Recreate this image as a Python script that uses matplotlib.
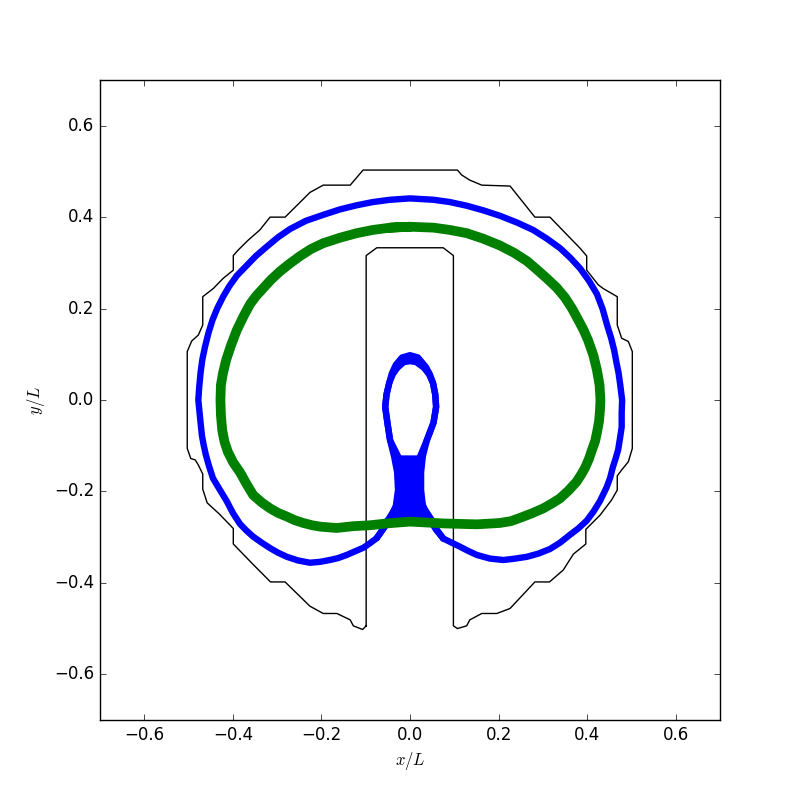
import numpy as np
import matplotlib
matplotlib.use('Agg')
import matplotlib.pyplot as plt

plt.style.use('classic')

# container wall (outer contour with the inner channel)
wall_x = [-0.099, -0.099, -0.075, 0.075, 0.098, 0.098, 0.107, 0.128, 0.135, 0.162,
          0.196, 0.226, 0.282, 0.315, 0.346, 0.369, 0.397, 0.397, 0.429, 0.455,
          0.468, 0.468, 0.478, 0.493, 0.502, 0.502, 0.493, 0.478, 0.468, 0.468,
          0.436, 0.425, 0.399, 0.399, 0.384, 0.316, 0.282, 0.226, 0.162, 0.135,
          0.117, 0.107, -0.106, -0.135, -0.196, -0.226, -0.282, -0.316, -0.339, -0.365,
          -0.388, -0.399, -0.399, -0.422, -0.444, -0.468, -0.468, -0.478, -0.493, -0.503,
          -0.503, -0.495, -0.485, -0.478, -0.468, -0.468, -0.458, -0.431, -0.399, -0.399,
          -0.357, -0.315, -0.282, -0.226, -0.196, -0.165, -0.135, -0.128, -0.107, -0.099]
wall_y = [-0.494, 0.316, 0.333, 0.333, 0.316, -0.494, -0.500, -0.494, -0.481, -0.467,
          -0.467, -0.456, -0.398, -0.398, -0.372, -0.337, -0.315, -0.283, -0.252, -0.219,
          -0.197, -0.166, -0.153, -0.135, -0.106, 0.106, 0.128, 0.135, 0.164, 0.226,
          0.244, 0.252, 0.284, 0.315, 0.332, 0.400, 0.400, 0.468, 0.470, 0.481,
          0.492, 0.503, 0.503, 0.470, 0.470, 0.454, 0.400, 0.400, 0.372, 0.350,
          0.328, 0.316, 0.284, 0.266, 0.244, 0.226, 0.164, 0.142, 0.129, 0.106,
          -0.106, -0.128, -0.131, -0.142, -0.162, -0.195, -0.225, -0.249, -0.281, -0.315,
          -0.357, -0.398, -0.398, -0.451, -0.467, -0.467, -0.481, -0.494, -0.502, -0.494]

# blue trajectory: outer ring (left lobe -> top -> right lobe)
ring_x = [-0.075, -0.090, -0.105, -0.124, -0.143, -0.163, -0.181, -0.203, -0.226, -0.253,
          -0.278, -0.298, -0.316, -0.335, -0.354, -0.369, -0.384, -0.400, -0.414, -0.429,
          -0.445, -0.454, -0.461, -0.466, -0.470, -0.474, -0.478,
          -0.476, -0.473, -0.469, -0.463, -0.455, -0.446, -0.435, -0.422, -0.408, -0.391,
          -0.369, -0.348, -0.324, -0.298, -0.271, -0.235, -0.196, -0.158, -0.120, -0.084,
          -0.045, 0.000, 0.053, 0.090, 0.128, 0.165, 0.203, 0.242, 0.278, 0.309,
          0.339, 0.362, 0.384, 0.404, 0.422, 0.435, 0.445, 0.454, 0.461, 0.466,
          0.471, 0.475, 0.479,
          0.478, 0.478, 0.474, 0.470, 0.464, 0.458, 0.452, 0.444, 0.429, 0.415,
          0.399, 0.380, 0.361, 0.339, 0.316, 0.290, 0.264, 0.237, 0.211, 0.181,
          0.151, 0.131, 0.113, 0.094, 0.075]
ring_y = [-0.302, -0.313, -0.323, -0.331, -0.339, -0.346, -0.350, -0.354, -0.356, -0.351,
          -0.343, -0.334, -0.324, -0.312, -0.299, -0.286, -0.271, -0.247, -0.221, -0.197,
          -0.171, -0.144, -0.120, -0.098, -0.077, -0.039, 0.000,
          0.028, 0.059, 0.088, 0.116, 0.147, 0.175, 0.201, 0.226, 0.249, 0.272,
          0.294, 0.315, 0.335, 0.356, 0.374, 0.392, 0.405, 0.417, 0.426, 0.433,
          0.438, 0.441, 0.438, 0.433, 0.425, 0.415, 0.403, 0.388, 0.372, 0.353,
          0.332, 0.311, 0.288, 0.261, 0.232, 0.199, 0.164, 0.136, 0.109, 0.083,
          0.059, 0.031, 0.000,
          -0.028, -0.059, -0.085, -0.109, -0.129, -0.147, -0.170, -0.191, -0.221, -0.243,
          -0.264, -0.281, -0.295, -0.312, -0.326, -0.336, -0.343, -0.347, -0.350, -0.347,
          -0.339, -0.330, -0.321, -0.312, -0.303]

# blue trajectory: passes through the neck and the small loop
pass1_x = [0.075, 0.045, 0.023, 0.005, -0.011, -0.027, -0.045, -0.051, -0.056, -0.053,
           -0.047, -0.039, -0.029, -0.014, 0.000, 0.014, 0.032, 0.043, 0.052, 0.057,
           0.059, 0.053, 0.038, 0.023, 0.007, -0.009, -0.025, -0.043, -0.059, -0.075]
pass1_y = [-0.303, -0.263, -0.232, -0.197, -0.158, -0.123, -0.088, -0.050, -0.015, 0.012,
           0.037, 0.056, 0.070, 0.083, 0.085, 0.083, 0.070, 0.056, 0.037, 0.012,
           -0.015, -0.050, -0.088, -0.123, -0.158, -0.197, -0.232, -0.258, -0.280, -0.302]
pass2_x = [0.075, 0.059, 0.043, 0.029, 0.025, 0.025, 0.029, 0.038, 0.053, 0.059,
           0.057, 0.052, 0.045, 0.036, 0.018, 0.000, -0.018, -0.032, -0.041, -0.047,
           -0.053, -0.056, -0.051, -0.045, -0.036, -0.029, -0.027, -0.032, -0.045, -0.061,
           -0.075]
pass2_y = [-0.303, -0.284, -0.258, -0.232, -0.197, -0.158, -0.123, -0.088, -0.050, -0.015,
           0.012, 0.037, 0.056, 0.072, 0.093, 0.098, 0.093, 0.077, 0.058, 0.037,
           0.012, -0.015, -0.050, -0.088, -0.123, -0.158, -0.197, -0.232, -0.258, -0.282,
           -0.302]

# blue neck below the small loop (left and right edges)
neck_y = [-0.120, -0.142, -0.160, -0.175, -0.197, -0.219, -0.234, -0.256, -0.274]
neck_left = [-0.041, -0.036, -0.034, -0.033, -0.030, -0.036, -0.041, -0.056, -0.072]
neck_right = [0.034, 0.030, 0.030, 0.028, 0.029, 0.032, 0.038, 0.053, 0.068]

# green trajectory (closed)
green_x = [0.000, -0.045, -0.084, -0.120, -0.158, -0.196, -0.224, -0.248, -0.272, -0.294,
           -0.314, -0.331, -0.347, -0.361, -0.376, -0.391, -0.404, -0.415, -0.422, -0.427,
           -0.428, -0.427, -0.424, -0.419, -0.411, -0.399, -0.384, -0.369, -0.354, -0.335,
           -0.316, -0.298, -0.278, -0.260, -0.241, -0.221, -0.203, -0.166, -0.128, -0.090,
           -0.053, 0.000, 0.075, 0.151, 0.203, 0.228, 0.248, 0.275, 0.301, 0.321,
           0.339, 0.358, 0.376, 0.386, 0.395, 0.404, 0.411, 0.418, 0.422, 0.427,
           0.429, 0.430, 0.428, 0.422, 0.414, 0.402, 0.392, 0.380, 0.366, 0.350,
           0.331, 0.309, 0.287, 0.264, 0.235, 0.203, 0.165, 0.128, 0.090, 0.053,
           0.000, -0.045]
green_y = [0.379, 0.377, 0.372, 0.365, 0.355, 0.343, 0.330, 0.315, 0.298, 0.281,
           0.263, 0.245, 0.228, 0.210, 0.183, 0.153, 0.120, 0.088, 0.060, 0.033,
           0.000, -0.033, -0.066, -0.091, -0.114, -0.137, -0.158, -0.184, -0.208, -0.224,
           -0.237, -0.247, -0.255, -0.263, -0.269, -0.274, -0.277, -0.280, -0.276, -0.274,
           -0.270, -0.266, -0.270, -0.272, -0.269, -0.265, -0.258, -0.248, -0.237, -0.226,
           -0.215, -0.198, -0.179, -0.164, -0.149, -0.129, -0.109, -0.090, -0.072, -0.046,
           -0.022, 0.000, 0.033, 0.066, 0.098, 0.131, 0.153, 0.175, 0.200, 0.224,
           0.246, 0.266, 0.285, 0.304, 0.322, 0.338, 0.353, 0.365, 0.372, 0.377,
           0.379, 0.377]

ticks = [-0.6, -0.4, -0.2, 0.0, 0.2, 0.4, 0.6]

fig = plt.figure(figsize=(8, 8), dpi=100, facecolor='white')
ax = fig.add_subplot(111)

ax.plot(wall_x, wall_y, color='k', lw=1.0)
ax.plot(ring_x, ring_y, color='b', lw=4.6, solid_capstyle='round')
ax.plot(pass1_x, pass1_y, color='b', lw=4.6, solid_capstyle='round')
ax.plot(pass2_x, pass2_y, color='b', lw=4.6, solid_capstyle='round')
ax.fill_betweenx(neck_y, neck_left, neck_right, color='b', lw=0)
ax.plot(green_x, green_y, color='green', lw=7, solid_capstyle='round')

ax.set_xlim(-0.7, 0.7)
ax.set_ylim(-0.7, 0.7)
ax.set_xticks(ticks)
ax.set_yticks(ticks)
ax.set_xlabel('$x/L$')
ax.set_ylabel('$y/L$')

fig.savefig('out.png', dpi=100, facecolor='white')
